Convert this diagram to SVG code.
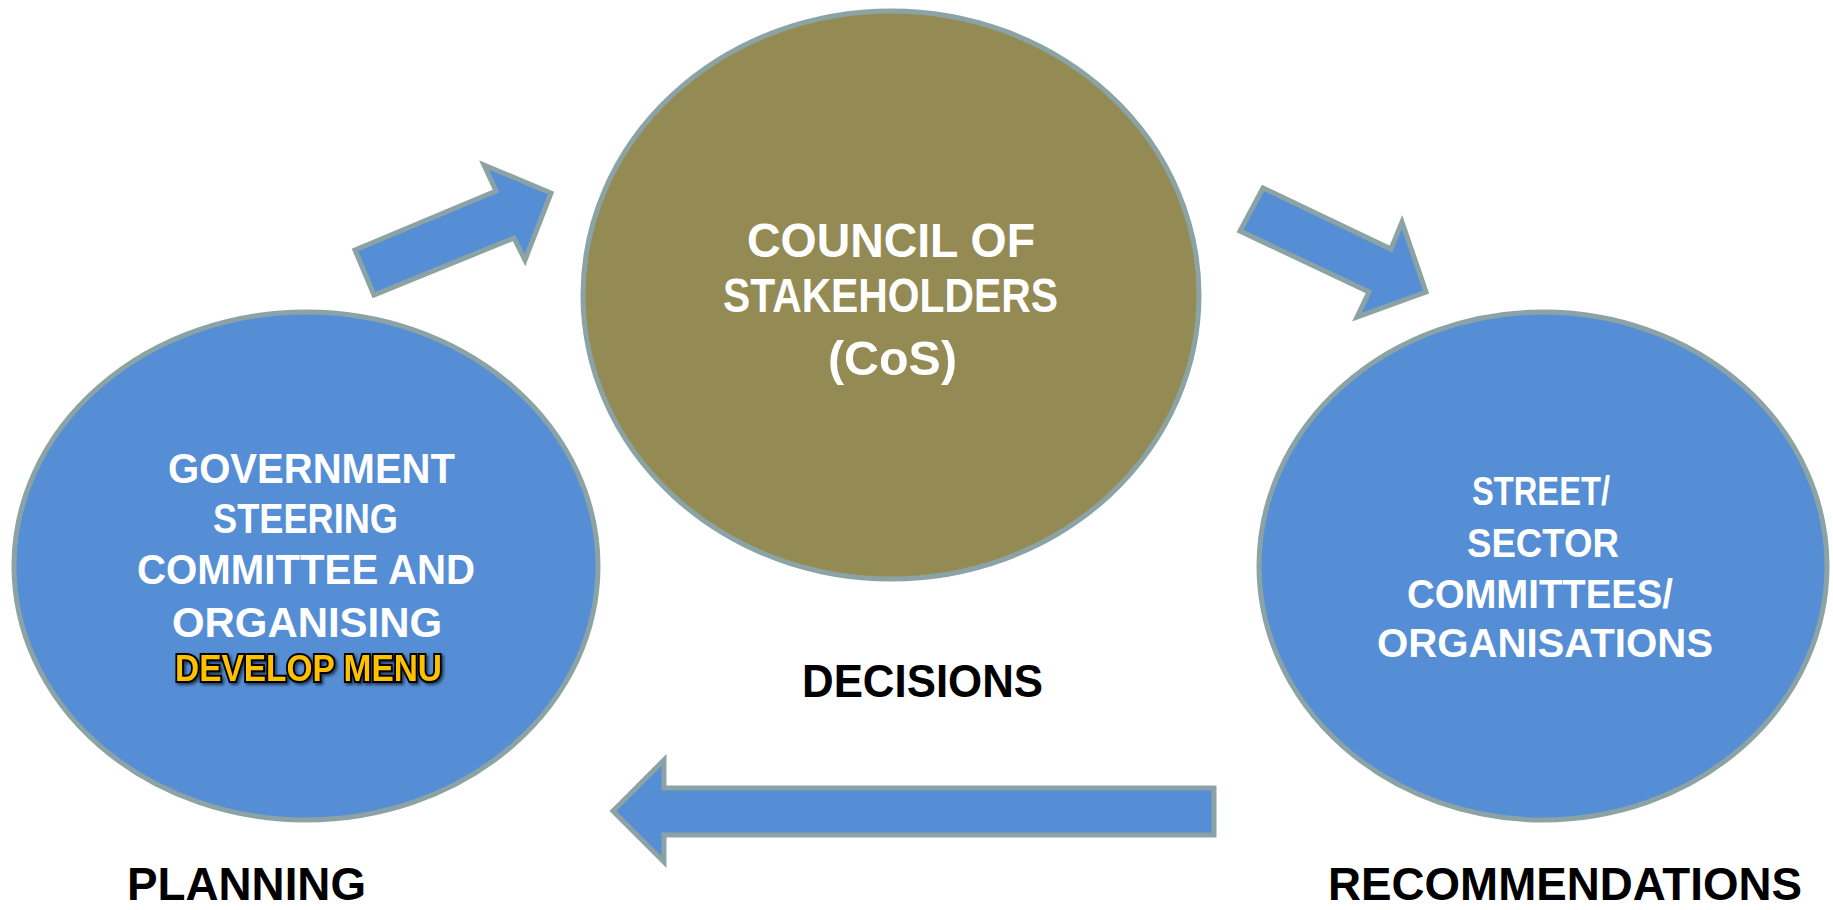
<svg xmlns="http://www.w3.org/2000/svg" width="1833" height="910" viewBox="0 0 1833 910">
<style>
.blue{fill:#558ED5;stroke:#8BA3A5;stroke-width:5;stroke-linejoin:miter}
.olive{fill:#948A54;stroke:#8BA3A5;stroke-width:5}
.w{font-family:"Liberation Sans",Arial,sans-serif;font-weight:bold;fill:#FFFFFF}
.k{font-family:"Liberation Sans",Arial,sans-serif;font-weight:bold;fill:#000000;font-size:46px}
.dm{font-family:"Liberation Sans",Arial,sans-serif;font-weight:bold;fill:#FFC000;stroke:#000000;stroke-width:4;paint-order:stroke;font-size:37px}
</style>
<defs>
<filter id="sh" x="-10%" y="-30%" width="120%" height="160%">
<feDropShadow dx="2" dy="2" stdDeviation="1.5" flood-color="#000000" flood-opacity="0.6"/>
</filter>
</defs>
<rect width="1833" height="910" fill="#FFFFFF"/>
<g id="connectors">
<polygon class="blue" points="355,250 496,191 484,165 551,193 525,260 514,238 374,295"/>
<polygon class="blue" points="1263,188 1391,249 1402,222 1426,292 1357,317 1369,292 1240,231"/>
<polygon class="blue" points="613,811 664,760 664,788 1214,788 1214,835 664,835 664,862"/>
</g>
<g id="node-cos">
<ellipse class="olive" cx="891" cy="295" rx="308" ry="284"/>
<text class="w" font-size="48" x="747" y="257" textLength="288" lengthAdjust="spacingAndGlyphs">COUNCIL OF</text>
<text class="w" font-size="48" x="723" y="312" textLength="335" lengthAdjust="spacingAndGlyphs">STAKEHOLDERS</text>
<text class="w" font-size="48" x="828" y="375" textLength="129" lengthAdjust="spacingAndGlyphs">(CoS)</text>
</g>
<g id="node-government">
<ellipse class="blue" cx="306" cy="566" rx="292" ry="254"/>
<text class="w" font-size="43" x="168" y="483" textLength="287" lengthAdjust="spacingAndGlyphs">GOVERNMENT</text>
<text class="w" font-size="43" x="213" y="533" textLength="185" lengthAdjust="spacingAndGlyphs">STEERING</text>
<text class="w" font-size="43" x="137" y="584" textLength="338" lengthAdjust="spacingAndGlyphs">COMMITTEE AND</text>
<text class="w" font-size="43" x="172" y="637" textLength="270" lengthAdjust="spacingAndGlyphs">ORGANISING</text>
<text class="dm" x="175" y="681" textLength="267" lengthAdjust="spacingAndGlyphs" filter="url(#sh)">DEVELOP MENU</text>
</g>
<g id="node-street">
<ellipse class="blue" cx="1543" cy="566" rx="284" ry="254"/>
<text class="w" font-size="41" x="1472" y="505" textLength="138" lengthAdjust="spacingAndGlyphs">STREET/</text>
<text class="w" font-size="41" x="1467" y="557" textLength="152" lengthAdjust="spacingAndGlyphs">SECTOR</text>
<text class="w" font-size="41" x="1407" y="608" textLength="266" lengthAdjust="spacingAndGlyphs">COMMITTEES/</text>
<text class="w" font-size="41" x="1377" y="657" textLength="336" lengthAdjust="spacingAndGlyphs">ORGANISATIONS</text>
</g>
<g id="labels">
<text class="k" x="802" y="697" textLength="241" lengthAdjust="spacingAndGlyphs">DECISIONS</text>
<text class="k" x="127" y="900" textLength="239" lengthAdjust="spacingAndGlyphs">PLANNING</text>
<text class="k" x="1328" y="900" textLength="474" lengthAdjust="spacingAndGlyphs">RECOMMENDATIONS</text>
</g>
</svg>
